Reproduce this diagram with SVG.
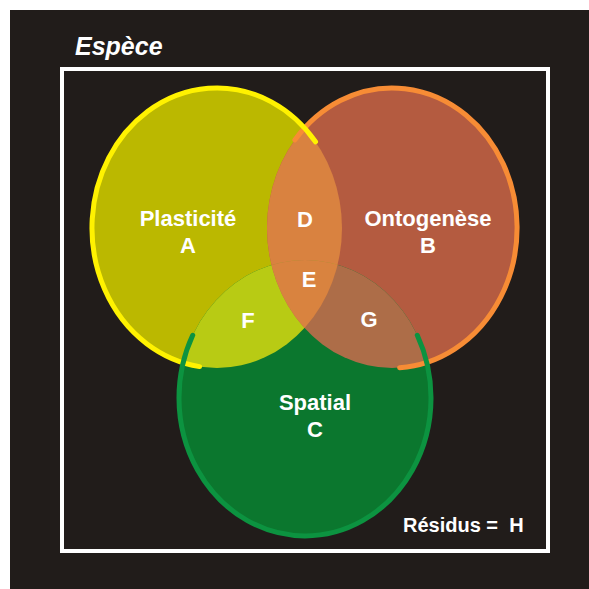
<svg xmlns="http://www.w3.org/2000/svg" width="589" height="589" viewBox="0 0 589 589">
<style>
.t{font-family:"Liberation Sans",Arial,sans-serif;font-weight:bold;fill:#ffffff;font-size:22px;text-anchor:middle}
.arc{fill:none;stroke-width:5;stroke-linecap:round}
</style>
<defs>
<ellipse id="eA" cx="217" cy="228" rx="125" ry="140"/>
<ellipse id="eB" cx="392" cy="228" rx="125" ry="140"/>
<ellipse id="eC" cx="305" cy="398" rx="126" ry="138"/>
<clipPath id="cA"><use href="#eA"/></clipPath>
<clipPath id="cB"><use href="#eB"/></clipPath>
<clipPath id="cC"><use href="#eC"/></clipPath>
</defs>
<rect x="0" y="0" width="589" height="589" fill="#ffffff"/>
<rect x="10" y="10" width="579" height="579" fill="#211c1a"/>
<rect id="espece" x="62" y="69" width="486" height="482" fill="none" stroke="#ffffff" stroke-width="4"/>
<text x="75" y="55" style="font-family:'Liberation Sans',Arial,sans-serif;font-weight:bold;font-style:italic;font-size:25px;fill:#ffffff">Espèce</text>

<g id="fills">
<use href="#eA" fill="#bbb800"/>
<use href="#eB" fill="#b45b40"/>
<use href="#eC" fill="#0b772e"/>
<g clip-path="url(#cA)"><use href="#eB" fill="#d98240"/></g>
<g clip-path="url(#cA)"><use href="#eC" fill="#b8cb14"/></g>
<g clip-path="url(#cB)"><use href="#eC" fill="#ad6d48"/></g>
<g clip-path="url(#cA)"><g clip-path="url(#cB)"><use href="#eC" fill="#d9833f"/></g></g>
</g>

<g id="outlines">
<path class="arc" stroke="#f78c35" d="M294.9,139.9 A125,140 0 1 1 399.6,367.7"/>
<path class="arc" stroke="#fff200" d="M315.5,141.8 A125,140 0 1 0 199.6,366.6"/>
<path class="arc" stroke="#0c9340" d="M192.7,335.3 A126,138 0 1 0 417.3,335.3"/>
</g>

<g id="A"><text class="t" x="188" y="226">Plasticité</text><text class="t" x="188" y="253">A</text></g>
<g id="B"><text class="t" x="428" y="226">Ontogenèse</text><text class="t" x="428" y="253">B</text></g>
<g id="C"><text class="t" x="315" y="410">Spatial</text><text class="t" x="315" y="437">C</text></g>
<g id="D"><text class="t" x="305" y="227">D</text></g>
<g id="E"><text class="t" x="309" y="287">E</text></g>
<g id="F"><text class="t" x="248" y="328">F</text></g>
<g id="G"><text class="t" x="369" y="327">G</text></g>
<g id="H"><text x="403" y="532" style="font-family:'Liberation Sans',Arial,sans-serif;font-weight:bold;font-size:20px;fill:#ffffff;white-space:pre">Résidus =  H</text></g>
</svg>
